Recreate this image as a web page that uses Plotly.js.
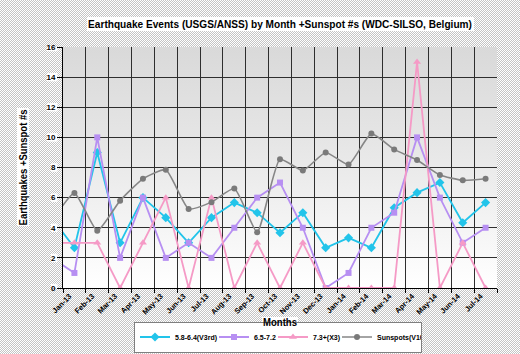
<!DOCTYPE html>
<html>
<head>
<meta charset="utf-8">
<script src="https://cdn.plot.ly/plotly-3.0.1.min.js"></script>
<style>
  html, body { margin:0; padding:0; }
  body {
    width:520px; height:354px; overflow:hidden;
    background: repeating-conic-gradient(#c4c4c4 0 25%, #ffffff 0 50%) 0 0/2px 2px;
    position:relative;
  }
  #grad { position:absolute; left:63px; top:47px; width:434px; height:241px;
    background: linear-gradient(#d9d9d9 0%, #e6e6e6 40%, #ffffff 100%); }
  #chart { position:absolute; left:0; top:0; width:520px; height:354px; }
</style>
</head>
<body>
<div id="grad"></div>
<div id="chart"></div>
<script>
// Categories (first one lies just outside the visible range, as in the reference)
const months = ["Dec-12","Jan-13","Feb-13","Mar-13","Apr-13","May-13","Jun-13","Jul-13","Aug-13","Sep-13","Oct-13","Nov-13","Dec-13","Jan-14","Feb-14","Mar-14","Apr-14","May-14","Jun-14","Jul-14"];
const quakes58 = [4.67, 2.67, 9, 3, 6, 4.67, 3, 4.67, 5.67, 5, 3.67, 5, 2.67, 3.33, 2.67, 5.33, 6.33, 7, 4.33, 5.67];
const quakes65 = [2, 1, 10, 2, 6, 2, 3, 2, 4, 6, 7, 4, 0, 1, 4, 5, 10, 6, 3, 4];
const quakes73 = [3, 3, 3, 0, 3, 6, 0, 6, 0, 3, 0, 3, 0, 0, 0, 0, 15, 0, 3, 0];
const sunspots = [4.4, 6.3, 3.8, 5.8, 7.25, 7.85, 5.25, 5.7, 6.6, 3.7, 8.55, 7.8, 9.0, 8.2, 10.25, 9.2, 8.5, 7.5, 7.15, 7.25];
const seriesNames = ["5.8-6.4(V3rd)", "6.5-7.2", "7.3+(X3)", "Sunspots(V10"];
const yTicks = [0, 2, 4, 6, 8, 10, 12, 14, 16];
const titleText = "Earthquake Events (USGS/ANSS) by Month +Sunspot #s (WDC-SILSO, Belgium)";
const yTitleText = "Earthquakes +Sunspot #s";
const xTitleText = "Months";

const fontMain = "Liberation Sans, Arial, sans-serif";
const fontMainCss = "'Liberation Sans', Arial, sans-serif";

const cv = document.createElement("canvas").getContext("2d");
function textW(text, size) { cv.font = "bold " + size + "px " + fontMainCss; return cv.measureText(text).width; }
const titleSize = 11.6, yTitleSize = 11, xTitleSize = 11;
const legendSize = 7;
const legendW = seriesNames.map(n => Math.max(8, Math.round(textW(n, legendSize)) - 8));

const traces = [
  { x: months, y: quakes58, name: seriesNames[0], mode: "lines+markers", legendwidth: legendW[0],
    line: { color: "#22c4ea", width: 1.8 }, marker: { symbol: "diamond", size: 7, color: "#22c4ea" } },
  { x: months, y: quakes65, name: seriesNames[1], mode: "lines+markers", legendwidth: legendW[1],
    line: { color: "#b78ff2", width: 1.8 }, marker: { symbol: "square", size: 6, color: "#b78ff2" } },
  { x: months, y: quakes73, name: seriesNames[2], mode: "lines+markers", legendwidth: legendW[2],
    line: { color: "#f59ac6", width: 1.8 }, marker: { symbol: "triangle-up", size: 7, color: "#f59ac6" } },
  { x: months, y: sunspots, name: seriesNames[3], mode: "lines+markers", legendwidth: legendW[3],
    line: { color: "#868686", width: 1.6, shape: "spline", smoothing: 0.5 }, marker: { symbol: "circle", size: 6, color: "#7a7a7a" } }
];

const pl = 63, pt = 47, pw = 434, ph = 241;
function px2x(p) { return (p - pl) / pw; }
function px2y(p) { return (pt + ph - p) / ph; }

const shapes = [
  { type: "rect", xref: "paper", yref: "paper", x0: px2x(87), x1: px2x(474), y0: px2y(31), y1: px2y(17),
    fillcolor: "#ffffff", line: { width: 0 }, layer: "below" },
  { type: "rect", xref: "paper", yref: "paper", x0: px2x(17), x1: px2x(29), y0: px2y(226), y1: px2y(108),
    fillcolor: "#ffffff", line: { width: 0 }, layer: "below" },
  { type: "rect", xref: "paper", yref: "paper", x0: px2x(262), x1: px2x(298), y0: px2y(328), y1: px2y(317),
    fillcolor: "#ffffff", line: { width: 0 }, layer: "below" }
];
yTicks.forEach(t => {
  shapes.push({ type: "rect", xref: "paper", yref: "y", x0: px2x(t >= 10 ? 47 : 51), x1: px2x(57.5),
    y0: t - 0.28, y1: t + 0.28, fillcolor: "#ffffff", line: { width: 0 }, layer: "below" });
});

const layout = {
  width: 520, height: 354,
  margin: { l: pl, r: 520 - pl - pw, t: pt, b: 354 - pt - ph, pad: 0, autoexpand: false },
  paper_bgcolor: "rgba(0,0,0,0)",
  plot_bgcolor: "rgba(0,0,0,0)",
  title: { text: "<b>" + titleText + "</b>",
    font: { family: fontMain, size: titleSize, color: "#000" }, x: 280 / 520, xanchor: "center",
    y: 1 - 24 / 354, yanchor: "middle" },
  xaxis: {
    type: "category", range: [0.5, 19.5], tickson: "boundaries",
    showgrid: true, gridcolor: "#2e2e2e", gridwidth: 1,
    showline: true, linecolor: "#000", linewidth: 1,
    ticks: "outside", ticklen: 4, tickcolor: "#000",
    tickangle: -45, tickfont: { family: fontMain, size: 7.5, color: "#000", weight: "bold" },
    ticklabelshift: -5,
    title: { text: "<b>" + xTitleText + "</b>", font: { family: fontMain, size: xTitleSize, color: "#000" }, standoff: 2 },
    automargin: false, zeroline: false
  },
  yaxis: {
    range: [0, 16], tickvals: yTicks, ticktext: yTicks.map(String),
    showgrid: true, gridcolor: "#2e2e2e", gridwidth: 1,
    showline: true, linecolor: "#000", linewidth: 1,
    ticks: "outside", ticklen: 5, tickcolor: "#000",
    tickfont: { family: fontMain, size: 8, color: "#000", weight: "bold" },
    title: { text: "<b>" + yTitleText + "</b>", font: { family: fontMain, size: yTitleSize, color: "#000" }, standoff: 16 },
    automargin: false, zeroline: false
  },
  showlegend: true,
  legend: {
    orientation: "h", x: px2x(278), xanchor: "center", y: px2y(337), yanchor: "middle",
    bgcolor: "#ffffff", bordercolor: "#7f7f7f", borderwidth: 1,
    font: { family: fontMain, size: legendSize, color: "#000", weight: "bold" },
    itemwidth: 30, tracegroupgap: 0, entrywidthmode: "pixels", valign: "middle"
  },
  shapes: shapes
};

// horizontally condense a title so it spans the width seen in the reference
function condense(el, target) {
  if (!el) return;
  const bb = el.getBBox();
  if (!bb.width) return;
  const s = target / bb.width;
  const cx = bb.x + bb.width / 2;
  const prev = el.getAttribute("transform") || "";
  el.setAttribute("transform", prev + " translate(" + cx + ",0) scale(" + s + ",1) translate(" + (-cx) + ",0)");
}

Plotly.newPlot("chart", traces, layout, { displayModeBar: false, staticPlot: true }).then(gd => {
  condense(gd.querySelector(".g-gtitle text"), 384);
  condense(gd.querySelector(".g-ytitle text"), 116);
  condense(gd.querySelector(".g-xtitle text"), 34);
});
</script>
</body>
</html>
